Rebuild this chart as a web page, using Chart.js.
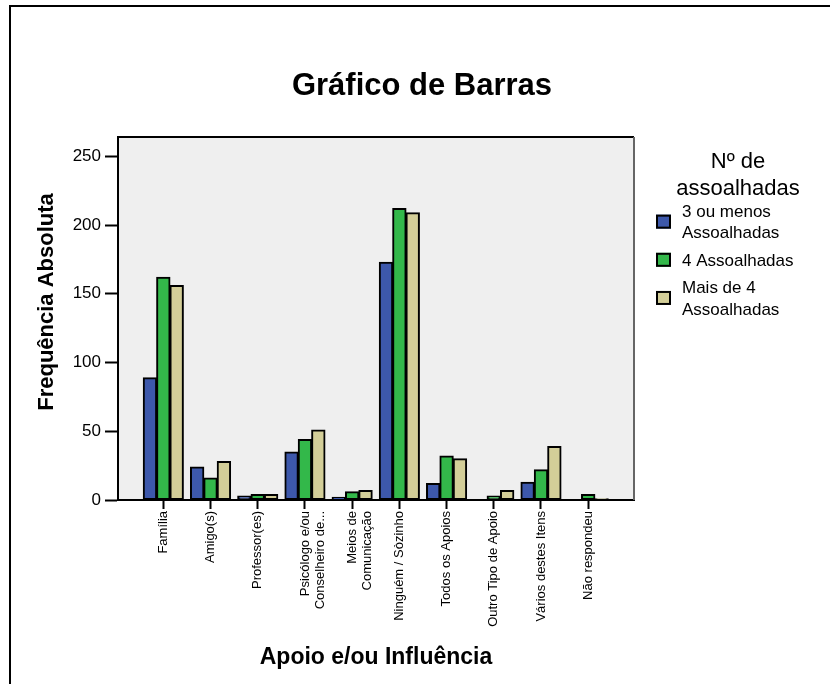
<!DOCTYPE html>
<html lang="pt">
<head>
<meta charset="utf-8">
<title>Gráfico de Barras</title>
<script src="https://cdn.jsdelivr.net/npm/chart.js@4.4.0/dist/chart.umd.min.js"></script>
<style>
  html, body { margin: 0; padding: 0; background: #fff; }
  canvas { display: block; }
</style>
</head>
<body>
<canvas id="chart" width="830" height="684"></canvas>
<script>
// categorias do eixo X (Apoio e/ou Influência)
const categorias = [
  'Família',
  'Amigo(s)',
  'Professor(es)',
  ['Psicólogo e/ou', 'Conselheiro de...'],
  ['Meios de', 'Comunicação'],
  'Ninguém / Sòzinho',
  'Todos os Apoios',
  'Outro Tipo de Apoio',
  'Vários destes Itens',
  'Não respondeu'
];

// frequências absolutas por nº de assoalhadas
const tresOuMenos  = [89, 24, 3, 35, 2, 173, 12, 0, 13, 0];
const quatro       = [162, 16, 4, 44, 6, 212, 32, 3, 22, 4];
const maisDeQuatro = [156, 28, 4, 51, 7, 209, 30, 7, 39, 1];

const series = ['3 ou menos\nAssoalhadas', '4 Assoalhadas', 'Mais de 4\nAssoalhadas'];
const cores = ['#3d58ab', '#33b84a', '#d3ce98'];
const yTicks = [0, 50, 100, 150, 200, 250];

const FONTE = '"Liberation Sans", Arial, Helvetica, sans-serif';
Chart.defaults.font.family = FONTE;
Chart.defaults.color = '#000';

const pontos = vals => vals.map((v, i) => ({ x: i, y: v }));

// fundo, moldura, títulos e legenda
const moldura = {
  id: 'moldura',
  beforeDraw(chart) {
    const { ctx, chartArea: a } = chart;
    ctx.save();
    ctx.fillStyle = '#fff';
    ctx.fillRect(0, 0, chart.width, chart.height);
    ctx.fillStyle = '#000';
    ctx.fillRect(9, 5, chart.width - 9, 2);
    ctx.fillRect(9, 5, 2, chart.height - 5);
    ctx.fillStyle = '#efefef';
    ctx.fillRect(a.left, a.top, a.right - a.left, a.bottom - a.top);
    ctx.restore();
  },
  afterDatasetsDraw(chart) {
    const { ctx, chartArea: a } = chart;
    ctx.save();
    ctx.lineWidth = 2;
    ctx.strokeStyle = '#000';
    ctx.beginPath();
    ctx.moveTo(a.right, a.top);
    ctx.lineTo(a.left, a.top);
    ctx.lineTo(a.left, a.bottom);
    ctx.lineTo(a.right, a.bottom);
    ctx.stroke();
    ctx.strokeStyle = '#666';
    ctx.beginPath();
    ctx.moveTo(a.right, a.top);
    ctx.lineTo(a.right, a.bottom);
    ctx.stroke();
    ctx.restore();
  },
  afterDraw(chart) {
    const { ctx } = chart;
    ctx.save();
    ctx.fillStyle = '#000';

    // título principal
    ctx.font = 'bold 31px ' + FONTE;
    ctx.textAlign = 'center';
    ctx.textBaseline = 'alphabetic';
    ctx.fillText('Gráfico de Barras', 422, 95);

    // título do eixo Y
    ctx.save();
    ctx.translate(53, 302);
    ctx.rotate(-Math.PI / 2);
    ctx.font = 'bold 22px ' + FONTE;
    ctx.fillText('Frequência Absoluta', 0, 0);
    ctx.restore();

    // legenda
    ctx.font = '22px ' + FONTE;
    ctx.fillText('Nº de', 738, 168);
    ctx.fillText('assoalhadas', 738, 195);

    ctx.textAlign = 'left';
    ctx.font = '17px ' + FONTE;
    let y = 205;
    chart.data.datasets.forEach(ds => {
      const linhas = ds.label.split('\n');
      const alto = 12 + (linhas.length - 1) * 21.3;
      linhas.forEach((t, k) => ctx.fillText(t, 682, y + 12 + k * 21.3));
      const cy = y + alto / 2;
      ctx.fillStyle = ds.backgroundColor;
      ctx.fillRect(656, cy - 7, 15, 14);
      ctx.lineWidth = 2;
      ctx.strokeStyle = '#000';
      ctx.strokeRect(657, cy - 6, 13, 12);
      ctx.fillStyle = '#000';
      y += alto + 15.5;
    });
    ctx.restore();
  }
};

const dados = [tresOuMenos, quatro, maisDeQuatro];

new Chart(document.getElementById('chart'), {
  type: 'bar',
  data: {
    datasets: dados.map((vals, i) => ({
      label: series[i],
      data: pontos(vals),
      backgroundColor: cores[i],
      borderColor: '#000',
      borderWidth: 2,
      borderSkipped: false,
      inflateAmount: 0.5,
      categoryPercentage: 0.85,
      barPercentage: 1.0
    }))
  },
  options: {
    responsive: false,
    animation: false,
    layout: { padding: { left: 60, top: 137, right: 196, bottom: 0 } },
    plugins: {
      legend: { display: false },
      title: { display: false },
      tooltip: { enabled: false }
    },
    scales: {
      x: {
        type: 'linear',
        offset: false,
        min: -0.96,
        max: 9.97,
        afterBuildTicks: scale => {
          scale.ticks = categorias.map((_, i) => ({ value: i }));
        },
        afterFit: scale => { scale.height = 184; },
        grid: {
          display: true,
          offset: false,
          drawOnChartArea: false,
          tickLength: 9,
          tickWidth: 2,
          tickColor: '#000'
        },
        border: { display: true, color: '#000', width: 2 },
        ticks: {
          minRotation: 90,
          maxRotation: 90,
          autoSkip: false,
          padding: 2,
          font: { size: 13 },
          callback: v => categorias[v]
        },
        title: {
          display: true,
          text: 'Apoio e/ou Influência',
          font: { size: 23, weight: 'bold' },
          padding: { top: 4, bottom: 13 }
        }
      },
      y: {
        min: 0,
        max: 264,
        afterBuildTicks: scale => {
          scale.ticks = yTicks.map(v => ({ value: v }));
        },
        afterFit: scale => { scale.width = 58; },
        grid: {
          display: true,
          drawOnChartArea: false,
          tickLength: 13,
          tickWidth: 2,
          tickColor: '#000'
        },
        border: { display: true, color: '#000', width: 2 },
        ticks: {
          padding: 4,
          font: { size: 17 }
        }
      }
    }
  },
  plugins: [moldura]
});
</script>
</body>
</html>
